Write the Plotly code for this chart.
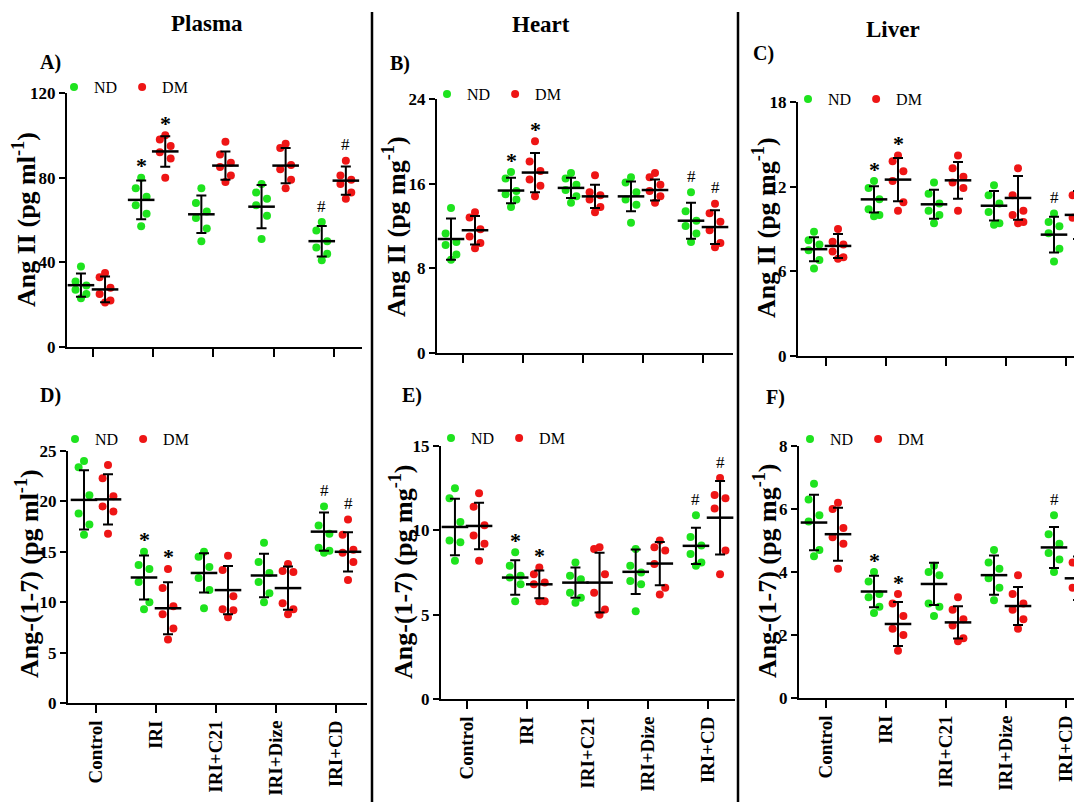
import plotly.graph_objects as go

W, H = 1082, 802

CATEGORIES = ["Control", "IRI", "IRI+C21", "IRI+Dize", "IRI+CD"]
SERIES = ["ND", "DM"]
COLORS = {"ND": "#1ee31e", "DM": "#ee1515"}
SIG_MARKS = {"IRI": "*", "IRI+CD": "#"}

# ---------- Panel A: Plasma, Ang II ----------
A_ND = [[38, 31, 29, 27, 25, 23], [80, 75, 71, 67, 63, 57], [75, 68, 64, 61, 56, 50],
        [77, 73, 70, 67, 62, 51], [59, 55, 50, 47, 44, 41]]
A_DM = [[35, 33, 28, 25, 22, 21], [100, 98, 95, 92, 89, 80], [97, 91, 87, 85, 81, 78],
        [96, 94, 86, 84, 79, 75], [88, 81, 79, 77, 73, 70]]
A_ND_MEAN = [29.2, 69.5, 62.7, 66.3, 50.0]
A_ND_SD = [5.5, 9.2, 8.9, 10.2, 7.2]
A_DM_MEAN = [27.2, 92.4, 85.7, 85.7, 78.6]
A_DM_SD = [6.1, 7.2, 6.7, 8.3, 6.7]

# ---------- Panel B: Heart, Ang II ----------
B_ND = [[13.7, 11.3, 10.5, 10.2, 9.3, 8.8], [17.1, 16.5, 15.3, 15.0, 14.5, 13.8],
        [17.0, 16.5, 15.9, 15.4, 14.8, 14.2], [16.6, 16.1, 15.2, 14.5, 14.0, 12.3],
        [15.2, 13.4, 12.5, 12.0, 11.3, 10.5]]
B_DM = [[13.3, 12.8, 11.7, 11.0, 10.4, 9.9], [20.0, 18.1, 17.2, 16.4, 15.8, 14.8],
        [16.8, 15.2, 14.9, 14.5, 13.8, 13.3], [17.0, 16.6, 15.9, 15.3, 14.8, 14.2],
        [14.1, 13.2, 12.4, 11.6, 10.4, 10.0]]
B_ND_MEAN = [10.77, 15.35, 15.6, 14.8, 12.5]
B_ND_SD = [1.95, 1.2, 0.95, 1.4, 1.7]
B_DM_MEAN = [11.6, 17.05, 14.8, 15.4, 11.9]
B_DM_SD = [1.35, 1.85, 1.1, 1.0, 1.6]

# ---------- Panel C: Liver, Ang II ----------
C_ND = [[8.8, 8.2, 7.9, 7.5, 6.8, 6.2], [12.4, 11.9, 11.1, 10.4, 10.0, 9.9],
        [12.3, 11.5, 10.8, 10.3, 10.0, 9.4], [12.1, 11.4, 10.8, 10.2, 9.4, 9.3],
        [10.1, 9.5, 9.2, 8.7, 7.6, 6.7]]
C_DM = [[9.0, 8.1, 7.9, 7.4, 7.0, 6.9], [14.2, 13.8, 13.1, 12.4, 10.9, 10.3],
        [14.2, 13.3, 12.7, 12.3, 11.9, 10.3], [13.3, 11.4, 10.3, 10.0, 9.5, 9.4],
        [12.1, 11.4, 10.6, 9.8, 8.6, 8.0]]
C_ND_MEAN = [7.57, 11.1, 10.75, 10.65, 8.6]
C_ND_SD = [0.85, 0.93, 1.03, 1.05, 1.27]
C_DM_MEAN = [7.8, 12.5, 12.45, 11.2, 10.0]
C_DM_SD = [0.85, 1.53, 1.3, 1.55, 1.7]

# ---------- Panel D: Plasma, Ang-(1-7) ----------
D_ND = [[24.0, 23.4, 20.6, 18.8, 17.7, 16.7], [15.0, 13.7, 13.3, 12.0, 10.0, 9.3],
        [15.0, 14.5, 13.5, 12.4, 11.2, 9.4], [15.9, 14.0, 12.9, 12.0, 10.9, 10.0],
        [19.5, 17.6, 16.8, 15.4, 15.1, 14.9]]
D_DM = [[23.6, 22.3, 20.5, 19.5, 19.0, 16.8], [13.3, 11.4, 9.6, 8.8, 7.4, 6.3],
        [14.6, 13.2, 10.6, 9.3, 9.2, 8.5], [13.8, 13.1, 13.0, 9.9, 9.3, 8.8],
        [18.2, 16.7, 15.2, 14.9, 14.0, 12.2]]
D_ND_MEAN = [20.15, 12.45, 12.9, 12.65, 17.0]
D_ND_SD = [2.95, 2.18, 1.95, 2.15, 1.9]
D_DM_MEAN = [20.2, 9.4, 11.2, 11.4, 15.0]
D_DM_SD = [2.5, 2.58, 2.4, 2.15, 1.95]

# ---------- Panel E: Heart, Ang-(1-7) ----------
E_ND = [[12.5, 11.9, 10.5, 9.4, 9.3, 8.2], [8.7, 7.9, 7.3, 7.2, 6.8, 5.8],
        [8.1, 7.3, 7.1, 6.3, 6.0, 5.7], [8.9, 7.9, 7.5, 7.0, 6.8, 5.2],
        [10.9, 9.6, 9.1, 8.6, 8.1, 7.9]]
E_DM = [[12.2, 11.4, 10.3, 9.7, 9.2, 8.2], [7.8, 7.4, 6.9, 6.8, 5.8, 5.8],
        [9.0, 8.9, 7.4, 6.3, 5.3, 5.0], [9.4, 9.0, 8.8, 8.0, 6.6, 6.2],
        [13.1, 12.1, 11.9, 11.3, 8.8, 7.4]]
E_ND_MEAN = [10.2, 7.2, 6.9, 7.54, 9.08]
E_ND_SD = [1.67, 1.02, 0.9, 1.32, 1.08]
E_DM_MEAN = [10.26, 6.8, 6.9, 8.03, 10.75]
E_DM_SD = [1.38, 0.82, 1.77, 1.28, 2.18]

# ---------- Panel F: Liver, Ang-(1-7) ----------
F_ND = [[6.8, 6.3, 5.8, 5.6, 4.7, 4.5], [4.0, 3.7, 3.3, 3.2, 2.9, 2.7],
        [4.2, 4.0, 3.9, 3.0, 2.9, 2.6], [4.7, 4.3, 4.1, 3.8, 3.5, 3.1],
        [5.8, 5.2, 4.9, 4.6, 4.4, 4.0]]
F_DM = [[6.2, 6.0, 5.4, 5.1, 4.9, 4.1], [3.3, 3.0, 2.6, 2.2, 2.0, 1.5],
        [3.2, 2.8, 2.5, 2.3, 1.9, 1.8], [3.9, 3.3, 3.0, 2.8, 2.5, 2.2],
        [4.9, 4.3, 3.9, 3.5, 3.2, 3.0]]
F_ND_MEAN = [5.57, 3.38, 3.62, 3.9, 4.78]
F_ND_SD = [0.88, 0.5, 0.67, 0.62, 0.65]
F_DM_MEAN = [5.2, 2.35, 2.4, 2.92, 3.8]
F_DM_SD = [0.84, 0.7, 0.51, 0.6, 0.69]

Y_TICKS = {"A": [0, 40, 80, 120], "B": [0, 8, 16, 24], "C": [0, 6, 12, 18],
           "D": [0, 5, 10, 15, 20, 25], "E": [0, 5, 10, 15], "F": [0, 2, 4, 6, 8]}
Y_TITLES = {"A": "Ang II (pg ml<sup>-1</sup>)", "B": "Ang II (pg mg<sup>-1</sup>)",
            "C": "Ang II (pg mg<sup>-1</sup>)", "D": "Ang-(1-7) (pg ml<sup>-1</sup>)",
            "E": "Ang-(1-7) (pg mg<sup>-1</sup>)", "F": "Ang-(1-7) (pg mg<sup>-1</sup>)"}
COLUMN_TITLES = ["Plasma", "Heart", "Liver"]

DATA = {
    "A": (A_ND, A_DM, A_ND_MEAN, A_ND_SD, A_DM_MEAN, A_DM_SD),
    "B": (B_ND, B_DM, B_ND_MEAN, B_ND_SD, B_DM_MEAN, B_DM_SD),
    "C": (C_ND, C_DM, C_ND_MEAN, C_ND_SD, C_DM_MEAN, C_DM_SD),
    "D": (D_ND, D_DM, D_ND_MEAN, D_ND_SD, D_DM_MEAN, D_DM_SD),
    "E": (E_ND, E_DM, E_ND_MEAN, E_ND_SD, E_DM_MEAN, E_DM_SD),
    "F": (F_ND, F_DM, F_ND_MEAN, F_ND_SD, F_DM_MEAN, F_DM_SD),
}

# ---------- layout geometry (screen pixels) ----------
GEOM = {
    "A": dict(x0=67, x1=362, t0=93, sp=60.2, yb=347, yt=93),
    "B": dict(x0=437, x1=733, t0=463, sp=60, yb=353, yt=99),
    "C": dict(x0=798, x1=1090, t0=826, sp=60, yb=356, yt=102),
    "D": dict(x0=68, x1=367, t0=96, sp=60, yb=703, yt=451),
    "E": dict(x0=441, x1=735, t0=467, sp=60.25, yb=699, yt=446),
    "F": dict(x0=799, x1=1090, t0=826, sp=60, yb=698, yt=446),
}
YTITLE_POS = {"A": (25, 220), "B": (394, 227), "C": (764, 228),
              "D": (27, 574), "E": (401, 572), "F": (765, 571)}
LEGEND_DOT = {"A": (73, 87), "B": (446, 94), "C": (807, 99),
              "D": (74, 439), "E": (450, 438), "F": (809, 439)}
LETTER_POS = {"A": (50, 62), "B": (400, 63), "C": (763, 53),
              "D": (50, 395), "E": (412, 395), "F": (775, 397)}
HEAD_POS = [(207, 23), (541, 25), (893, 30)]
SEPARATORS = [372, 738]
OFFSET = {"ND": -0.2, "DM": 0.2}
JITTER = [0.0, -0.09, 0.09, -0.09, 0.09, 0.0]

SERIF = "Liberation Serif"
PAGE_OFF = 8  # default page body margin that shifts the figure on screen


def px(x):
    return (x - PAGE_OFF) / W


def py(y):
    return 1 - (y - PAGE_OFF) / H


fig = go.Figure()
annotations = []
layout = {}

for i, key in enumerate(["A", "B", "C", "D", "E", "F"], start=1):
    g = GEOM[key]
    xa = "x" if i == 1 else f"x{i}"
    ya = "y" if i == 1 else f"y{i}"
    leg = "legend" if i == 1 else f"legend{i}"
    nd, dm, ndm, nds, dmm, dms = DATA[key]
    groups = {"ND": (nd, ndm, nds), "DM": (dm, dmm, dms)}
    bottom_row = key in ("D", "E", "F")
    ymax = Y_TICKS[key][-1]

    # individual points
    for s in SERIES:
        pts = groups[s][0]
        xs, ys = [], []
        for ci, vals in enumerate(pts):
            for k, v in enumerate(vals):
                xs.append(ci + OFFSET[s] + JITTER[k % len(JITTER)])
                ys.append(v)
        fig.add_trace(go.Scatter(
            x=xs, y=ys, mode="markers", name=s, xaxis=xa, yaxis=ya, legend=leg,
            marker=dict(color=COLORS[s], size=8, line=dict(width=0)),
            showlegend=True))
    # mean ± SD
    for s in SERIES:
        pts, mean, sd = groups[s]
        fig.add_trace(go.Scatter(
            x=[ci + OFFSET[s] for ci in range(len(CATEGORIES))], y=mean,
            mode="markers", xaxis=xa, yaxis=ya, showlegend=False,
            marker=dict(symbol="line-ew", size=19, color="black",
                        line=dict(width=2.5, color="black")),
            error_y=dict(type="data", array=sd, color="black", thickness=2, width=5)))
        # significance marks
        for ci, cat in enumerate(CATEGORIES):
            if cat in SIG_MARKS:
                top = max(max(pts[ci]), mean[ci] + sd[ci])
                mark = SIG_MARKS[cat]
                annotations.append(dict(
                    x=ci + OFFSET[s], y=top, xref=xa, yref=ya, text=mark, showarrow=False,
                    xanchor="center", yanchor="middle",
                    yshift=12 if mark == "*" else 16,
                    font=dict(family=SERIF, size=22 if mark == "*" else 17, color="black",
                              weight="bold" if mark == "*" else "normal")))

    xr = [(g["x0"] - g["t0"]) / g["sp"], (g["x1"] - g["t0"]) / g["sp"]]
    xname = "xaxis" if i == 1 else f"xaxis{i}"
    yname = "yaxis" if i == 1 else f"yaxis{i}"
    layout[xname] = dict(
        domain=[px(g["x0"]), min(1.0, px(g["x1"]))], range=xr, anchor=ya, automargin=False,
        tickmode="array", tickvals=list(range(len(CATEGORIES))), ticktext=CATEGORIES,
        showticklabels=bottom_row, tickangle=-90,
        tickfont=dict(family=SERIF, size=19, color="black", weight="bold"),
        ticks="outside", ticklen=8, tickwidth=2, tickcolor="black",
        showline=True, linewidth=2, linecolor="black",
        showgrid=False, zeroline=False, fixedrange=True)
    layout[yname] = dict(
        domain=[py(g["yb"]), py(g["yt"])], range=[0, ymax], anchor=xa, automargin=False,
        tickmode="array", tickvals=Y_TICKS[key],
        tickfont=dict(family=SERIF, size=17, color="black", weight="bold"),
        ticks="outside", ticklen=6, tickwidth=2, tickcolor="black",
        showline=True, linewidth=2, linecolor="black",
        showgrid=False, zeroline=False, fixedrange=True)

    # legend for panel
    dx, dy = LEGEND_DOT[key]
    layout[leg] = dict(
        orientation="h", x=px(dx - 19), y=py(dy), xanchor="left", yanchor="middle",
        bgcolor="rgba(0,0,0,0)", borderwidth=0, itemwidth=30,
        font=dict(family=SERIF, size=16, color="black"))

    # y-axis title
    tx, ty = YTITLE_POS[key]
    annotations.append(dict(
        x=px(tx), y=py(ty), xref="paper", yref="paper", text=f"<b>{Y_TITLES[key]}</b>",
        textangle=-90, showarrow=False, xanchor="center", yanchor="middle",
        font=dict(family=SERIF, size=26, color="black")))
    # panel letter
    lx, ly = LETTER_POS[key]
    annotations.append(dict(
        x=px(lx), y=py(ly), xref="paper", yref="paper", text=f"<b>{key})</b>",
        showarrow=False, xanchor="center", yanchor="middle",
        font=dict(family=SERIF, size=20, color="black")))

for title, (hx, hy) in zip(COLUMN_TITLES, HEAD_POS):
    annotations.append(dict(
        x=px(hx), y=py(hy), xref="paper", yref="paper", text=f"<b>{title}</b>",
        showarrow=False, xanchor="center", yanchor="middle",
        font=dict(family=SERIF, size=23, color="black")))

shapes = [dict(type="line", xref="paper", yref="paper", x0=px(sx), x1=px(sx),
               y0=py(12), y1=0, line=dict(color="black", width=2.5)) for sx in SEPARATORS]

fig.update_layout(
    template="none",
    width=W, height=H, margin=dict(l=0, r=0, t=0, b=0, autoexpand=False),
    paper_bgcolor="white", plot_bgcolor="white",
    annotations=annotations, shapes=shapes, **layout)

fig.write_html("out.html")
